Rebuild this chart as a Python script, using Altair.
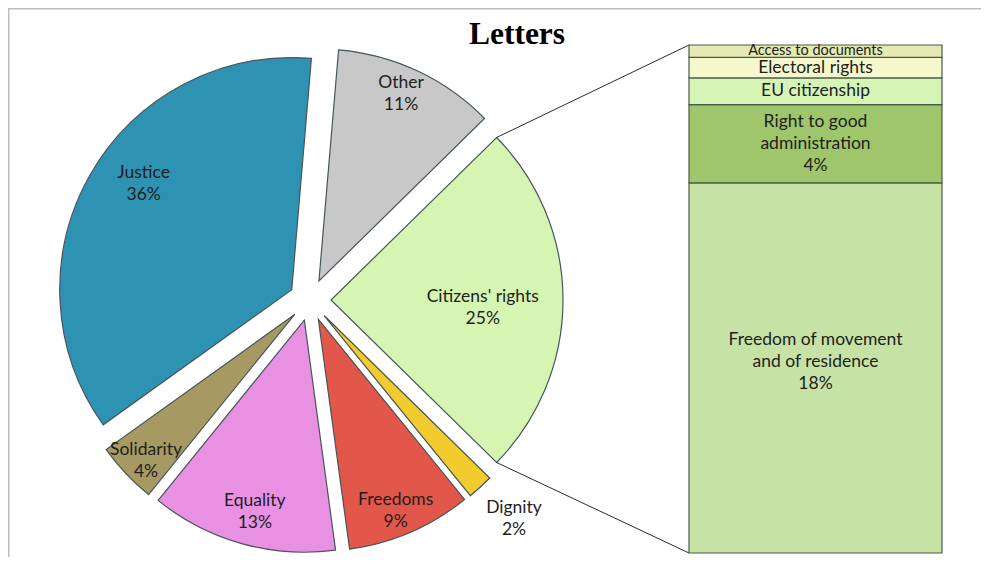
import math
import altair as alt
import pandas as pd

# ---------------- data ----------------
pie_categories = ["Citizens' rights", "Dignity", "Freedoms", "Equality", "Solidarity", "Justice", "Other"]
pie_values = [24.7, 1.8, 8.7, 13.0, 4.25, 36.25, 11.3]

bar_categories = ["Freedom of movement and of residence", "Right to good administration",
                  "EU citizenship", "Electoral rights", "Access to documents"]
bar_values = [18.0, 3.8, 1.3, 1.0, 0.6]
bar_label_lines = [["Freedom of movement", "and of residence"], ["Right to good", "administration"],
                   ["EU citizenship"], ["Electoral rights"], ["Access to documents"]]
bar_show_pct = [True, True, False, False, False]

title_text = "Letters"

# ---------------- styles / layout ----------------
pie_colors = ["#D6F5B3", "#F2CB2E", "#E2574A", "#E891E3", "#A69A62", "#2E93B3", "#C8C8C8"]
bar_colors = ["#C6E2A4", "#9FC66A", "#D6F4B6", "#F5F8CC", "#E4EAB2"]
label_radius = [0.655, 1.2, 0.89, 0.855, 0.9, 0.785, 0.88]
label_nudge_deg = [3, -0.7, 1.4, -1.2, -1.3, 6, -1.5]
bar_label_font = [17.5, 17.5, 17.5, 17.5, 14.5]
bar_label_extra_dy = [-6, 0, 0, 0, 0]

W, H = 973, 549
CX, CY = 302, 292
R = 232
EXPLODE = 21
BAR_X0, BAR_X1 = 681, 934
BAR_TOP, BAR_BOTTOM = 37, 545
FONT = "Lato"
FS = 17.5
LH = 22

# ---------------- derived tables ----------------
total = sum(pie_values)
a0 = math.pi / 2 - math.pi * pie_values[0] / total   # split slice centred on the right
rows = []
cum = 0.0
for i, (c, v) in enumerate(zip(pie_categories, pie_values)):
    s, e = cum, cum + v
    cum = e
    mid = a0 + 2 * math.pi * (s + e) / 2 / total
    tx = CX + EXPLODE * math.sin(mid)
    ty = CY - EXPLODE * math.cos(mid)
    la = mid + math.radians(label_nudge_deg[i])
    lr = R * label_radius[i]
    lines = [c, f"{round(v)}%"]
    rows.append(dict(category=c, start=s, end=e, tip_x=tx, tip_y=ty,
                     lx=tx + lr * math.sin(la),
                     ly=ty - lr * math.cos(la) - (len(lines) - 1) * LH / 2,
                     label=lines,
                     a_start=a0 + 2 * math.pi * s / total, a_end=a0 + 2 * math.pi * e / total))
pie_df = pd.DataFrame(rows)

split = rows[0]
conn_df = pd.DataFrame([
    dict(x=split["tip_x"] + R * math.sin(split["a_start"]), y=split["tip_y"] - R * math.cos(split["a_start"]),
         x2=BAR_X0, y2=BAR_TOP),
    dict(x=split["tip_x"] + R * math.sin(split["a_end"]), y=split["tip_y"] - R * math.cos(split["a_end"]),
         x2=BAR_X0, y2=BAR_BOTTOM),
])

bar_total = sum(bar_values)
brows = []
cum = 0.0
for c, v, lines, show in zip(bar_categories, bar_values, bar_label_lines, bar_show_pct):
    s, e = cum, cum + v
    cum = e
    brows.append(dict(group=pie_categories[0], category=c, b0=s, b1=e, bm=(s + e) / 2,
                      label=lines + ([f"{round(v)}%"] if show else [])))
bar_df = pd.DataFrame(brows)

# ---------------- scales ----------------
px_x = alt.Scale(domain=[0, W], range=[0, W], nice=False, zero=False)
px_y = alt.Scale(domain=[0, H], range=[0, H], nice=False, zero=False)
theta_scale = alt.Scale(domain=[0, total], range=[a0, a0 + 2 * math.pi])
pie_color = alt.Scale(domain=pie_categories, range=pie_colors)
bar_x = alt.Scale(domain=[pie_categories[0]], range=[BAR_X0, BAR_X1], paddingInner=0, paddingOuter=0)
bar_y = alt.Scale(domain=[0, bar_total], range=[BAR_BOTTOM, BAR_TOP], nice=False, zero=False)
bar_color = alt.Scale(domain=bar_categories, range=bar_colors)

# ---------------- pie part ----------------
arcs = alt.Chart(pie_df).mark_arc(outerRadius=R, innerRadius=0, stroke="#46555c", strokeWidth=1.2).encode(
    x=alt.X("tip_x:Q", scale=px_x, axis=None),
    y=alt.Y("tip_y:Q", scale=px_y, axis=None),
    theta=alt.Theta("start:Q", stack=None, scale=theta_scale),
    theta2="end:Q",
    color=alt.Color("category:N", scale=pie_color, legend=None),
)

pie_labels = alt.Chart(pie_df).mark_text(font=FONT, fontSize=FS, color="#1e1e1e", lineHeight=LH,
                                         align="center", baseline="middle").encode(
    x=alt.X("lx:Q", scale=px_x, axis=None),
    y=alt.Y("ly:Q", scale=px_y, axis=None),
    text="label",
)

connectors = alt.Chart(conn_df).mark_rule(color="#2a2a2a", strokeWidth=1).encode(
    x=alt.X("x:Q", scale=px_x, axis=None),
    y=alt.Y("y:Q", scale=px_y, axis=None),
    x2="x2:Q",
    y2="y2:Q",
)

title = alt.Chart(pd.DataFrame({"t": [title_text]})).mark_text(
    font="Liberation Serif", fontSize=31.5, fontWeight="bold", color="#000000", baseline="alphabetic"
).encode(x=alt.value(509), y=alt.value(36), text="t:N")

frame_top = alt.Chart(pd.DataFrame({"t": [0]})).mark_rule(color="#bdbdbd", strokeWidth=2).encode(
    x=alt.value(0), x2=alt.value(W), y=alt.value(0.5))
frame_left = alt.Chart(pd.DataFrame({"t": [0]})).mark_rule(color="#bdbdbd", strokeWidth=2).encode(
    x=alt.value(0.5), y=alt.value(0), y2=alt.value(H))

pie_part = alt.layer(arcs, connectors, pie_labels)

# ---------------- bar part ----------------
bars = alt.Chart(bar_df).mark_bar(stroke="#4b5a48", strokeWidth=1.2).encode(
    x=alt.X("group:N", scale=bar_x, axis=None),
    y=alt.Y("b0:Q", scale=bar_y, axis=None),
    y2="b1:Q",
    color=alt.Color("category:N", scale=bar_color, legend=None),
)
bar_text_layers = []
for i, r in enumerate(brows):
    n = len(r["label"])
    bar_text_layers.append(
        alt.Chart(bar_df).transform_filter(alt.datum.category == r["category"]).mark_text(
            font=FONT, fontSize=bar_label_font[i], color="#1e1e1e", lineHeight=LH,
            align="center", baseline="middle", dy=-(n - 1) * LH / 2 + bar_label_extra_dy[i]
        ).encode(
            x=alt.X("group:N", scale=bar_x, axis=None),
            y=alt.Y("bm:Q", scale=bar_y, axis=None),
            text="label",
        )
    )
bar_part = alt.layer(bars, *bar_text_layers)

chart = alt.layer(frame_top, frame_left, pie_part, bar_part, title).resolve_scale(
    x="independent", y="independent", color="independent"
).properties(
    width=W, height=H, padding=0, autosize=alt.AutoSizeParams(type="none")
).configure_view(stroke=None)

chart.save("out.html", embed_options={"renderer": "svg", "actions": False})
